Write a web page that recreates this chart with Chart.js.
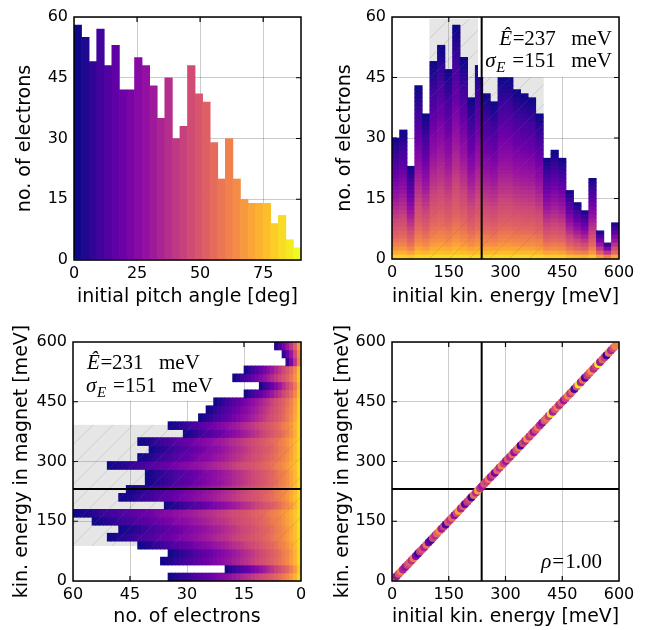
<!DOCTYPE html>
<html><head><meta charset="utf-8">
<script src="https://cdn.jsdelivr.net/npm/chart.js@4/dist/chart.umd.min.js"></script>
<style>
html,body{margin:0;padding:0;background:#fff;width:648px;height:630px;overflow:hidden}
canvas{position:absolute}
</style></head><body>
<canvas id="c1" width="324" height="315" style="left:0;top:0"></canvas>
<canvas id="c2" width="324" height="315" style="left:324px;top:0"></canvas>
<canvas id="c3" width="324" height="315" style="left:0;top:315px"></canvas>
<canvas id="c4" width="324" height="315" style="left:324px;top:315px"></canvas>
<script>
// ---------------- data ----------------
const pitchBinWidth = 3; // deg, bins 0..90
const pitchCounts = [58,55,49,57,48,53,42,42,50,48,43,35,45,30,33,48,41,39,29,20,30,20,15,14,14,14,9,11,5,3];
const energyBinWidth = 20; // meV, bins 0..600
const initEnergyCounts = [30,32,23,43,36,49,53,47,58,50,40,48,41,39,45,45,42,41,40,36,25,27,25,17,14,12,20,7,4,9];
const magnetEnergyCounts = [35,20,37,35,43,51,48,55,60,36,48,46,41,41,51,43,40,43,31,35,27,25,23,15,11,18,15,4,5,7];
const pitchTicks = [0,25,50,75];
const countTicks = [0,15,30,45,60];
const energyTicks = [0,150,300,450,600];
const eHatInit = 237, eHatMagnet = 231;
const sigmaInit = 151, sigmaMagnet = 151;
const shadeInit = [99,401];
const shadeMagnet = [88,392];
const rhoText = '1.00';
// scatter: initial energy (meV), energy in magnet (meV), pitch angle (deg)
const scatterE = [2,7,12,18,24,29,35,41,46,52,57,63,69,74,80,85,91,97,103,108,114,119,126,131,137,142,148,154,159,165,171,176,182,188,193,199,205,210,216,222,227,233,238,244,250,256,261,267,272,278,284,290,295,301,306,312,318,323,329,335,340,346,352,357,363,369,374,380,386,391,397,403,408,414,420,425,431,437,442,448,454,459,465,471,476,482,488,493,499,505,510,516,522,527,533,539,545,550,556,562,567,573,579,585,590];
const scatterMagnetE = [2,7,12,18,24,29,35,41,46,52,57,63,69,74,80,85,91,97,103,108,114,119,126,131,137,142,148,154,159,165,171,176,182,188,193,199,205,210,216,222,227,233,238,244,250,256,261,267,272,278,284,290,295,301,306,312,318,323,329,335,340,346,352,357,363,369,374,380,386,391,397,403,408,414,420,425,431,437,442,448,454,459,465,471,476,482,488,493,499,505,510,516,522,527,533,539,545,550,556,562,567,573,579,585,590];
const scatterPitch = [40,55,30,48,62,35,28,45,52,38,60,25,8,42,50,33,58,20,10,46,36,54,64,31,44,12,49,38,57,27,45,70,34,52,15,41,48,6,56,36,68,40,30,50,43,60,33,47,22,55,39,65,44,30,51,37,58,28,48,62,10,45,35,66,40,53,31,47,60,38,27,50,57,42,84,33,48,61,36,52,29,44,63,39,55,10,47,86,34,58,12,41,50,66,37,45,88,30,54,43,8,59,35,48,62];

// ---------------- colour map (plasma) ----------------
const PLASMA = [[13,8,135],[65,4,157],[106,0,168],[143,13,164],[177,42,144],[204,71,120],[225,100,98],[242,132,75],[252,166,54],[252,206,37],[240,249,33]];
function plasma(t){
  t = Math.max(0, Math.min(1, t));
  const f = t*10, i = Math.min(9, Math.floor(f)), u = f - i;
  const a = PLASMA[i], b = PLASMA[i+1];
  return 'rgb(' + [0,1,2].map(k => Math.round(a[k] + (b[k]-a[k])*u)).join(',') + ')';
}
const pitchMax = pitchCounts.length * pitchBinWidth;
const pitchTotal = pitchCounts.reduce((s,v)=>s+v,0);
function pitchQuantile(p){
  const target = p*pitchTotal; let cum = 0;
  for (let i=0;i<pitchCounts.length;i++){
    const c = pitchCounts[i];
    if (cum + c >= target) return (i + (target-cum)/c) * pitchBinWidth;
    cum += c;
  }
  return pitchMax;
}
const binCenters = (counts, w) => counts.map((_,i)=> (i+0.5)*w);

// stacked unit layers, bottom layer = largest pitch angle
function layerDatasets(counts, width, horizontal){
  const centers = binCenters(counts, width);
  const maxN = Math.max(...counts);
  const ds = [];
  for (let j=0;j<maxN;j++){
    const data = [], colors = [];
    counts.forEach((n,i)=>{
      if (n > j){
        const ang = pitchQuantile(1 - (j+0.5)/n);
        data.push(horizontal ? {x:1, y:centers[i]} : {x:centers[i], y:1});
        colors.push(plasma(ang/pitchMax));
      }
    });
    ds.push({data, backgroundColor:colors, borderWidth:0, grouped:false, barPercentage:1, categoryPercentage:1});
  }
  return ds;
}

// ---------------- common styling ----------------
const TICK_FONT = {family:'"DejaVu Sans"', size:16};
const TITLE_FONT = {family:'"DejaVu Sans"', size:19};
const GRID = 'rgba(0,0,0,0.2)';
function axis(opts){
  const o = {
    type:'linear', min:opts.min, max:opts.max, reverse:!!opts.reverse,
    stacked:!!opts.stacked, offset:false,
    afterBuildTicks: s => { s.ticks = opts.ticks.map(v=>({value:v})); },
    grid:{color:GRID, lineWidth:1, drawTicks:false, offset:false},
    border:{display:false},
    ticks:{font:TICK_FONT, color:'#000', padding:opts.pad, autoSkip:false, maxRotation:0},
    title:{display:true, text:opts.title, font:TITLE_FONT, color:'#000', padding:opts.titlePad}
  };
  if (opts.size != null){
    if (opts.horizontal) o.afterFit = s => { s.height = opts.size; };
    else o.afterFit = s => { s.width = opts.size; };
  }
  return o;
}

// frame, inward ticks, shading, lines, text boxes
const decor = {
  id:'decor',
  beforeDatasetsDraw(chart, args, o){
    const {ctx, chartArea:a} = chart;
    const xs = chart.scales.x, ys = chart.scales.y;
    ctx.save();
    ctx.strokeStyle = '#000'; ctx.lineWidth = 1.2;
    const L = 5;
    xs.ticks.forEach(t=>{
      const p = xs.getPixelForValue(t.value);
      if (p < a.left+1 || p > a.right-1) return;
      ctx.beginPath(); ctx.moveTo(p,a.bottom); ctx.lineTo(p,a.bottom-L); ctx.moveTo(p,a.top); ctx.lineTo(p,a.top+L); ctx.stroke();
    });
    ys.ticks.forEach(t=>{
      const p = ys.getPixelForValue(t.value);
      if (p < a.top+1 || p > a.bottom-1) return;
      ctx.beginPath(); ctx.moveTo(a.left,p); ctx.lineTo(a.left+L,p); ctx.moveTo(a.right,p); ctx.lineTo(a.right-L,p); ctx.stroke();
    });
    if (o.shade){
      const r = shadeRect(chart, o.shade);
      ctx.fillStyle = 'rgba(128,128,128,0.2)';
      ctx.fillRect(r.x, r.y, r.w, r.h);
    }
    if (o.linesBelow) drawLines(chart, o);
    ctx.restore();
  },
  afterDatasetsDraw(chart, args, o){
    const {ctx, chartArea:a} = chart;
    ctx.save();
    if (o.shade){
      const r = shadeRect(chart, o.shade);
      ctx.beginPath(); ctx.rect(r.x, r.y, r.w, r.h); ctx.clip();
      ctx.strokeStyle = 'rgba(110,110,110,0.3)'; ctx.lineWidth = 0.7;
      const step = 20;
      for (let s = r.x - r.h; s < r.x + r.w; s += step){
        ctx.beginPath(); ctx.moveTo(s, r.y + r.h); ctx.lineTo(s + r.h, r.y); ctx.stroke();
      }
      ctx.restore(); ctx.save();
    }
    if (o.box){
      ctx.fillStyle = '#fff';
      const bx = o.box.anchor === 'right' ? a.right - o.box.w : a.left;
      ctx.fillRect(bx, a.top, o.box.w, o.box.h);
    }
    if (!o.linesBelow) drawLines(chart, o);
    (o.texts||[]).forEach(t => drawMath(ctx, t.parts, t.anchor==='right' ? a.right + t.dx : a.left + t.dx, (t.fromBottom ? a.bottom : a.top) + t.dy, t.anchor));
    ctx.strokeStyle = '#000'; ctx.lineWidth = 1.5;
    ctx.strokeRect(a.left, a.top, a.right-a.left, a.bottom-a.top);
    ctx.restore();
  }
};
function shadeRect(chart, s){
  const a = chart.chartArea;
  if (s.axis === 'x'){
    const x0 = chart.scales.x.getPixelForValue(s.from), x1 = chart.scales.x.getPixelForValue(s.to);
    const yt = s.top != null ? chart.scales.y.getPixelForValue(s.top) : a.top;
    return {x:Math.min(x0,x1), y:yt, w:Math.abs(x1-x0), h:a.bottom-yt};
  } else {
    const y0 = chart.scales.y.getPixelForValue(s.from), y1 = chart.scales.y.getPixelForValue(s.to);
    return {x:a.left, y:Math.min(y0,y1), w:a.right-a.left, h:Math.abs(y1-y0)};
  }
}
function drawLines(chart, o){
  const {ctx, chartArea:a} = chart;
  ctx.strokeStyle = '#000'; ctx.lineWidth = 2;
  if (o.vline != null){
    const p = chart.scales.x.getPixelForValue(o.vline);
    ctx.beginPath(); ctx.moveTo(p,a.top); ctx.lineTo(p,a.bottom); ctx.stroke();
  }
  if (o.hline != null){
    const p = chart.scales.y.getPixelForValue(o.hline);
    ctx.beginPath(); ctx.moveTo(a.left,p); ctx.lineTo(a.right,p); ctx.stroke();
  }
}
const SERIF = '"Liberation Serif"';
function drawMath(ctx, parts, x, y, anchor){
  ctx.fillStyle = '#000'; ctx.textBaseline = 'alphabetic'; ctx.textAlign = 'left';
  let total = 0;
  parts.forEach(p => { ctx.font = (p.italic?'italic ':'') + (p.size||21) + 'px ' + SERIF; total = Math.max(total, p.dx + ctx.measureText(p.t).width); });
  const x0 = anchor === 'right' ? x - total : x;
  parts.forEach(p => { ctx.font = (p.italic?'italic ':'') + (p.size||21) + 'px ' + SERIF; ctx.fillText(p.t, x0 + p.dx, y + (p.dy||0)); });
}
function eHatParts(val){ return [{t:'\u00CA', italic:true, dx:0},{t:'=', dx:13.5},{t:String(val), dx:25},{t:'meV', dx:72}]; }
function sigmaParts(val){ return [{t:'\u03C3', italic:true, dx:0},{t:'E', italic:true, size:15, dx:11, dy:5},{t:'=', dx:27},{t:String(val), dx:39},{t:'meV', dx:86}]; }

const base = {
  responsive:false, animation:false, devicePixelRatio:1,
  plugins:{legend:{display:false}, tooltip:{enabled:false}}
};

// ---------------- 1: pitch angle histogram ----------------
new Chart(document.getElementById('c1'), {
  type:'bar',
  data:{datasets:[{
    data: pitchCounts.map((v,i)=>({x:(i+0.5)*pitchBinWidth, y:v})),
    backgroundColor: pitchCounts.map((_,i)=>plasma(i/(pitchCounts.length-1))),
    borderWidth:0, barPercentage:1, categoryPercentage:1
  }]},
  options:{...base,
    layout:{padding:{top:17,right:23,bottom:0,left:0}},
    scales:{
      x:axis({min:0,max:pitchMax,ticks:pitchTicks,title:'initial pitch angle [deg]',pad:4,titlePad:{bottom:7},size:55,horizontal:true}),
      y:axis({min:0,max:60,ticks:countTicks,title:'no. of electrons',pad:6,titlePad:{top:14},size:74})
    },
    plugins:{...base.plugins, decor:{}}
  },
  plugins:[decor]
});

// ---------------- 2: initial energy, stacked by pitch ----------------
new Chart(document.getElementById('c2'), {
  type:'bar',
  data:{datasets: layerDatasets(initEnergyCounts, energyBinWidth, false)},
  options:{...base,
    layout:{padding:{top:17,right:29,bottom:0,left:0}},
    scales:{
      x:axis({min:0,max:600,ticks:energyTicks,title:'initial kin. energy [meV]',pad:4,titlePad:{bottom:7},size:56,horizontal:true}),
      y:axis({min:0,max:60,ticks:countTicks,title:'no. of electrons',pad:6,titlePad:{top:10},size:68,stacked:true})
    },
    plugins:{...base.plugins, decor:{
      shade:{axis:'x', from:shadeInit[0], to:shadeInit[1], top:59.6},
      vline:eHatInit,
      box:{anchor:'right', w:141, h:60},
      texts:[
        {parts:eHatParts(eHatInit), anchor:'right', dx:-7, dy:28},
        {parts:sigmaParts(sigmaInit), anchor:'right', dx:-7, dy:50}
      ]
    }}
  },
  plugins:[decor]
});

// ---------------- 3: energy in magnet, horizontal ----------------
new Chart(document.getElementById('c3'), {
  type:'bar',
  data:{datasets: layerDatasets(magnetEnergyCounts, energyBinWidth, true)},
  options:{...base, indexAxis:'y',
    layout:{padding:{top:27,right:23,bottom:0,left:0}},
    scales:{
      x:axis({min:0,max:60,reverse:true,ticks:countTicks,title:'no. of electrons',pad:4,titlePad:{bottom:2},size:49,horizontal:true,stacked:true}),
      y:axis({min:0,max:600,ticks:energyTicks,title:'kin. energy in magnet [meV]',pad:6,titlePad:{top:11},size:73})
    },
    plugins:{...base.plugins, decor:{
      shade:{axis:'y', from:shadeMagnet[0], to:shadeMagnet[1]},
      hline:eHatMagnet,
      box:{anchor:'left', w:140, h:59},
      texts:[
        {parts:eHatParts(eHatMagnet), anchor:'left', dx:14, dy:27},
        {parts:sigmaParts(sigmaMagnet), anchor:'left', dx:13, dy:50}
      ]
    }}
  },
  plugins:[decor]
});

// ---------------- 4: scatter ----------------
new Chart(document.getElementById('c4'), {
  type:'scatter',
  data:{datasets:[{
    data: scatterE.map((e,i)=>({x:e, y:scatterMagnetE[i]})),
    backgroundColor: scatterPitch.map(p=>plasma(p/pitchMax)),
    pointRadius:4, pointBorderWidth:0, borderWidth:0
  }]},
  options:{...base,
    layout:{padding:{top:27,right:29,bottom:0,left:0}},
    scales:{
      x:axis({min:0,max:600,ticks:energyTicks,title:'initial kin. energy [meV]',pad:4,titlePad:{bottom:2},size:49,horizontal:true}),
      y:axis({min:0,max:600,ticks:energyTicks,title:'kin. energy in magnet [meV]',pad:6,titlePad:{top:8},size:68})
    },
    plugins:{...base.plugins, decor:{
      linesBelow:true,
      vline:eHatInit, hline:eHatMagnet,
      texts:[{parts:[{t:'\u03C1', italic:true, dx:0},{t:'=', dx:11},{t:rhoText, dx:24}], anchor:'right', dx:-17, fromBottom:true, dy:-13}]
    }}
  },
  plugins:[decor]
});
</script>
</body></html>
